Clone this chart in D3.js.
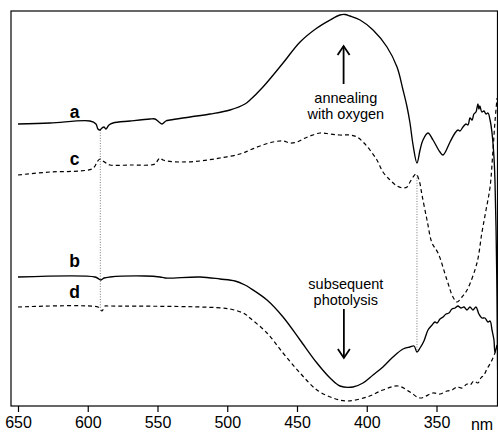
<!DOCTYPE html>
<html>
<head>
<meta charset="utf-8">
<script src="https://cdn.jsdelivr.net/npm/d3@7"></script>
<style>
  html, body { margin: 0; padding: 0; background: #fff; }
  svg { display: block; }
  text { font-family: "Liberation Sans", Arial, Helvetica, sans-serif; fill: #000; }
</style>
</head>
<body>
<svg id="chart" width="498" height="435"></svg>
<script>
// Difference spectra (wavelength in nm, relative absorbance)
const waveA = [650, 627, 598.4, 594.1, 592.7, 591.2, 589.8, 588.3, 586.9, 584.8, 581.9, 569.7, 555.4, 551.8, 549, 546.8, 544, 541, 526.7, 512.4, 498, 487.3, 483.7, 474.4, 460, 447.8, 435.7, 426.3, 419.2, 415.6, 412, 404.8, 395.5, 385.5, 378.3, 374, 371.1, 369, 366.8, 364, 361.8, 359.7, 356.1, 352.5, 347.5, 345.3, 340.3, 336.7, 334.6, 333.2, 331, 328.9, 327.4, 326, 324.5, 323.2, 321.7, 321, 320.3, 319.6, 318.9, 317.5, 316, 314.5, 313.1, 311.6, 310.2, 308.8, 308.1, 307.3, 306.6, 306.2];
const specA = [0.282, 0.283, 0.285, 0.282, 0.277, 0.276, 0.278, 0.279, 0.277, 0.281, 0.283, 0.285, 0.287, 0.287, 0.284, 0.282, 0.285, 0.286, 0.289, 0.292, 0.296, 0.302, 0.306, 0.319, 0.343, 0.364, 0.378, 0.386, 0.391, 0.3915, 0.390, 0.386, 0.376, 0.359, 0.339, 0.316, 0.299, 0.283, 0.261, 0.243, 0.256, 0.266, 0.273, 0.266, 0.254, 0.251, 0.264, 0.273, 0.276, 0.275, 0.279, 0.282, 0.281, 0.288, 0.286, 0.292, 0.294, 0.298, 0.302, 0.297, 0.300, 0.294, 0.295, 0.292, 0.293, 0.286, 0.273, 0.249, 0.226, 0.176, 0.106, 0.036];

const waveC = [650, 627.1, 605.6, 597, 594.8, 593.4, 591.2, 589.1, 586.9, 584.1, 569.7, 551.8, 549.7, 548.2, 546.1, 543.2, 533.9, 519.5, 505.2, 490.9, 483.7, 476.5, 467.2, 460, 455, 450, 445.7, 440.7, 433.5, 426.3, 419.2, 412, 407, 402.7, 397.7, 392.7, 388.4, 383.3, 378.3, 374, 371.1, 369, 366.8, 364.7, 362.5, 360.4, 356.8, 353.2, 348.9, 342.5, 338.2, 335.3, 331.7, 328.1, 321, 317.5, 314.5, 311.6, 309.5, 308.1, 306.6];
const specC = [0.231, 0.234, 0.235, 0.237, 0.240, 0.244, 0.247, 0.245, 0.243, 0.241, 0.241, 0.242, 0.246, 0.248, 0.246, 0.245, 0.244, 0.245, 0.248, 0.252, 0.256, 0.260, 0.264, 0.265, 0.263, 0.264, 0.267, 0.270, 0.273, 0.272, 0.271, 0.271, 0.269, 0.264, 0.256, 0.246, 0.234, 0.226, 0.220, 0.218, 0.219, 0.224, 0.229, 0.232, 0.226, 0.211, 0.186, 0.163, 0.153, 0.126, 0.109, 0.104, 0.109, 0.116, 0.143, 0.173, 0.196, 0.219, 0.256, 0.284, 0.308];

const waveB = [650, 594.8, 592, 590.5, 588.3, 584.1, 559, 548.2, 544.6, 519.5, 505.2, 494.4, 487.3, 483.7, 471.5, 460, 447.8, 435.7, 426.3, 419.2, 409.9, 402.7, 395.5, 388.4, 381.2, 374, 369, 366.1, 364, 361.8, 359, 356.1, 353.2, 351.1, 349.6, 347.5, 345.3, 343.2, 341.1, 338.9, 336.7, 334.6, 332.5, 330.3, 328.1, 326, 323.9, 321.7, 319.6, 317.5, 315.3, 313.1, 311.6, 310.2, 308.8, 308.1, 306.6];
const specB = [0.129, 0.129, 0.127, 0.126, 0.128, 0.129, 0.130, 0.129, 0.128, 0.129, 0.127, 0.125, 0.121, 0.118, 0.106, 0.089, 0.066, 0.043, 0.028, 0.020, 0.019, 0.023, 0.031, 0.039, 0.049, 0.057, 0.059, 0.060, 0.054, 0.058, 0.065, 0.076, 0.081, 0.084, 0.083, 0.087, 0.089, 0.092, 0.093, 0.097, 0.098, 0.100, 0.098, 0.099, 0.096, 0.099, 0.096, 0.099, 0.092, 0.088, 0.088, 0.084, 0.085, 0.076, 0.066, 0.054, 0.061];

const waveD = [650, 592.7, 591.2, 589.8, 587.6, 585.5, 519.5, 498, 487.3, 483.7, 471.5, 460, 447.8, 435.7, 424.2, 414.2, 399.8, 388.4, 377.6, 369, 361.8, 352.5, 347.5, 342.5, 338.9, 335.3, 331.7, 328.1, 326, 323.2, 320.3, 318.2, 316, 313.8, 310.9, 308.1, 306.6];
const specD = [0.099, 0.099, 0.097, 0.095, 0.100, 0.100, 0.099, 0.097, 0.092, 0.088, 0.073, 0.053, 0.033, 0.016, 0.008, 0.005, 0.009, 0.016, 0.020, 0.014, 0.008, 0.013, 0.012, 0.015, 0.016, 0.019, 0.018, 0.022, 0.021, 0.025, 0.023, 0.028, 0.031, 0.037, 0.044, 0.053, 0.059];

// Reference wavelengths marked by dotted guide lines
const guideWave = [591, 364];
const guideTop = [0.276, 0.231];
const guideBottom = [0.097, 0.056];

const xTicks = [650, 600, 550, 500, 450, 400, 350];
const xUnit = "nm";

const traceLabels = ["a", "c", "b", "d"];
const traceLabelValues = [0.288, 0.241, 0.139, 0.108];

const svg = d3.select("#chart");
const frame = { left: 11, top: 11, right: 497.5, bottom: 406 };

const x = d3.scaleLinear().domain([650, 350]).range([18, 436.5]);
const y = d3.scaleLinear().domain([0, 0.395]).range([frame.bottom, frame.top]);

svg.append("defs").append("clipPath").attr("id", "plot")
  .append("rect").attr("x", frame.left).attr("y", frame.top)
  .attr("width", frame.right - frame.left).attr("height", frame.bottom - frame.top);

// Frame
svg.append("rect")
  .attr("x", frame.left).attr("y", frame.top)
  .attr("width", frame.right - frame.left).attr("height", frame.bottom - frame.top)
  .attr("fill", "none").attr("stroke", "#000").attr("stroke-width", 1.2);

// Bottom axis
const axis = svg.append("g").attr("transform", `translate(0,${frame.bottom})`)
  .call(d3.axisBottom(x).tickValues(xTicks).tickSize(6).tickPadding(5).tickFormat(d3.format("d")));
axis.select(".domain").remove();
axis.selectAll("line").attr("stroke", "#000").attr("stroke-width", 1.2);
axis.selectAll("text").attr("font-size", 16).attr("font-family", "Liberation Sans, Arial, sans-serif").attr("fill", "#000");

svg.append("text").attr("x", 482).attr("y", 430).attr("text-anchor", "middle")
  .attr("font-size", 16).text(xUnit);

const plot = svg.append("g").attr("clip-path", "url(#plot)");

// Dotted guide lines
plot.selectAll("line.guide").data(guideWave).join("line")
  .attr("class", "guide")
  .attr("x1", d => x(d)).attr("x2", d => x(d))
  .attr("y1", (d, i) => y(guideTop[i])).attr("y2", (d, i) => y(guideBottom[i]))
  .attr("stroke", "#555").attr("stroke-width", 0.8).attr("stroke-dasharray", "1,1.6");

const line = d3.line().x(d => x(d[0])).y(d => y(d[1])).curve(d3.curveCatmullRom.alpha(0.5));

const traces = [
  { w: waveA, v: specA, dash: null },
  { w: waveC, v: specC, dash: "4,3" },
  { w: waveB, v: specB, dash: null },
  { w: waveD, v: specD, dash: "4,3" }
];

plot.selectAll("path.trace").data(traces).join("path")
  .attr("class", "trace")
  .attr("d", t => line(t.w.map((w, i) => [w, t.v[i]])))
  .attr("fill", "none").attr("stroke", "#000")
  .attr("stroke-width", t => t.dash ? 1.2 : 1.35)
  .attr("stroke-dasharray", t => t.dash);

// Trace letters
svg.selectAll("text.lbl").data(traceLabels).join("text")
  .attr("class", "lbl")
  .attr("x", x(609.5)).attr("y", (d, i) => y(traceLabelValues[i]))
  .attr("text-anchor", "middle").attr("font-size", 17.5).attr("font-weight", "bold")
  .text(d => d);

// Annotations with arrows
function annotation(lines, cx, baseY) {
  lines.forEach((s, i) => {
    svg.append("text").attr("x", cx).attr("y", baseY + i * 16)
      .attr("text-anchor", "middle").attr("font-size", 14.5).text(s);
  });
}
function arrow(ax, y1, y2) {
  const dir = y2 < y1 ? 1 : -1;
  svg.append("line").attr("x1", ax).attr("x2", ax).attr("y1", y1).attr("y2", y2)
    .attr("stroke", "#000").attr("stroke-width", 1.8);
  svg.append("path")
    .attr("d", `M${ax - 6},${y2 + dir * 9} L${ax},${y2} L${ax + 6},${y2 + dir * 9}`)
    .attr("fill", "none").attr("stroke", "#000").attr("stroke-width", 1.8);
}
const annoX = x(415);
arrow(x(416.6), 84, 46);
annotation(["annealing", "with oxygen"], annoX, 103);
annotation(["subsequent", "photolysis"], annoX, 289);
arrow(x(416.4), 309, 358);
</script>
</body>
</html>
